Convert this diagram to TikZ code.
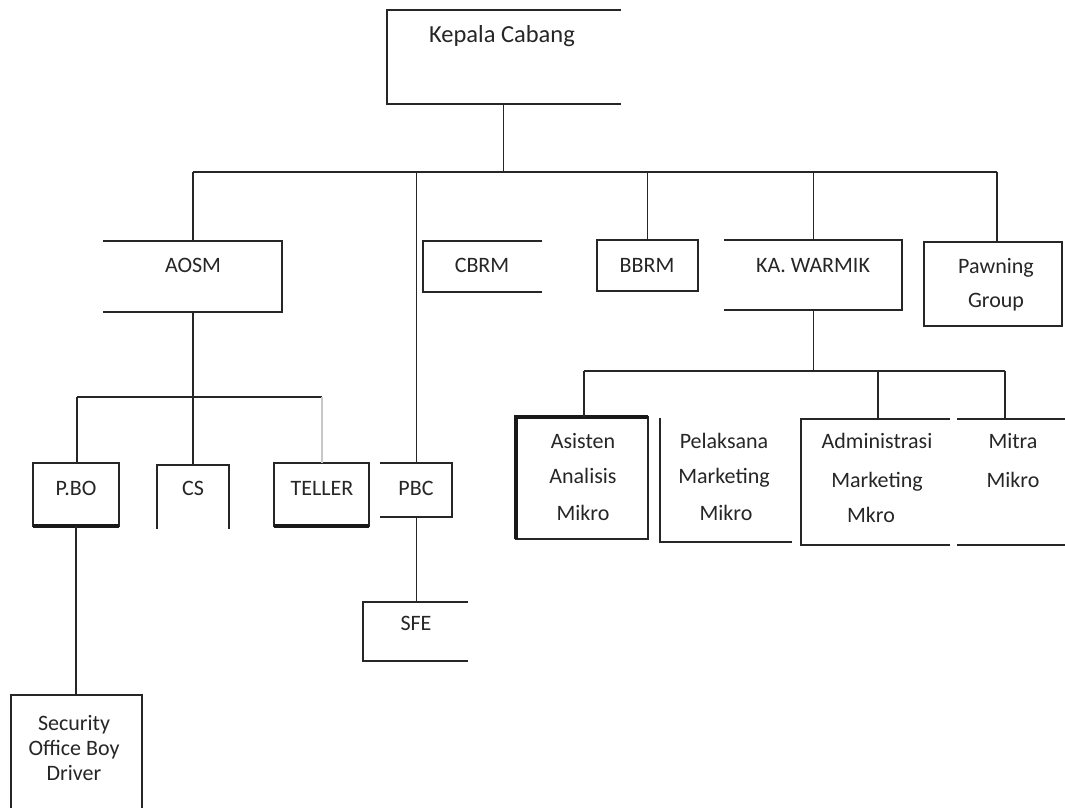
\documentclass[tikz,border=0pt]{standalone}
\usepackage{fontspec}
\setmainfont{Carlito}
\newcommand\mkbox[5]{% name, x1, x2, y1, y2
  \node[bx, minimum width={(#3-#2)*1pt}, minimum height={(#5-#4)*1pt}] (#1) at ({(#2+#3)/2},{(#4+#5)/2}) {};}
\begin{document}
\begin{tikzpicture}[x=1pt,y=-1pt,
  bx/.style={inner sep=0pt, outer sep=0pt, draw=none, shape=rectangle},
  lbl/.style={font=\fontsize{22}{26}\selectfont, text=black!85, inner sep=0pt, anchor=mid, yshift=-3pt},
  ln/.style={line width=1.9pt, black!85, line cap=rect},
  thk/.style={line width=3.2pt, black!90},
  conn/.style={line width=1.9pt, black!85},
  faint/.style={line width=1.4pt, black!22}]
\useasboundingbox (0,0) rectangle (1065,807);
\fill[white] (0,0) rectangle (1065,807);

% boxes (name, x1, x2, y1, y2)
\mkbox{kc}{387}{620}{10}{104}
\mkbox{aosm}{104}{282}{241}{312}
\mkbox{cbrm}{423}{541}{241}{292}
\mkbox{bbrm}{597}{698}{240}{291}
\mkbox{kaw}{725}{902}{240}{310}
\mkbox{pawn}{924}{1062}{242}{326}
\mkbox{pbo}{33}{119}{463}{526}
\mkbox{cs}{157}{229}{465}{528}
\mkbox{tel}{274}{369}{463}{526}
\mkbox{pbc}{381}{452}{463}{517}
\mkbox{sfe}{363}{467}{602}{661}
\mkbox{sec}{11}{142}{695}{807}
\mkbox{asi}{516}{648}{417}{539}
\mkbox{pel}{660}{791}{419}{542}
\mkbox{adm}{801}{949}{419}{545}
\mkbox{mit}{958}{1065}{419}{545}

% outlines
\draw[ln] (kc.north east) -- (kc.north west) -- (kc.south west) -- (kc.south east);
\draw[ln] (aosm.north west) -- (aosm.north east) -- (aosm.south east) -- (aosm.south west);
\draw[ln] (cbrm.north east) -- (cbrm.north west) -- (cbrm.south west) -- (cbrm.south east);
\draw[ln] (bbrm.north west) rectangle (bbrm.south east);
\draw[ln] (kaw.north west) -- (kaw.north east) -- (kaw.south east) -- (kaw.south west);
\draw[ln] (pawn.north west) rectangle (pawn.south east);
\draw[ln] (pbo.north west) rectangle (pbo.south east);
\draw[thk] (pbo.south west) -- (pbo.south east);
\draw[ln] (cs.south west) -- (cs.north west) -- (cs.north east) -- (cs.south east);
\draw[ln] (tel.north west) rectangle (tel.south east);
\draw[thk] (tel.south west) -- (tel.south east);
\draw[ln] (pbc.north west) -- (pbc.north east) -- (pbc.south east) -- (pbc.south west);
\draw[ln] (sfe.north east) -- (sfe.north west) -- (sfe.south west) -- (sfe.south east);
\draw[ln] (sec.south west) -- (sec.north west) -- (sec.north east) -- (sec.south east);
\draw[ln] (asi.north west) rectangle (asi.south east);
\draw[thk] (asi.south west) -- (asi.north west) -- (asi.north east);
\draw[ln] (pel.north west) -- (pel.south west) -- (pel.south east);
\draw[ln] (adm.north east) -- (adm.north west) -- (adm.south west) -- (adm.south east);
\draw[ln] (mit.north west) -- (mit.north east);
\draw[ln] (mit.south west) -- (mit.south east);

% labels
\node[lbl, font=\fontsize{24.5}{28}\selectfont] (kcT) at (502,37) {Kepala Cabang};
\node[lbl] (aosmT) at (193,267) {AOSM};
\node[lbl] (cbrmT) at (482,267) {CBRM};
\node[lbl] (bbrmT) at (647,267) {BBRM};
\node[lbl] (kawT) at (813,267) {KA. WARMIK};
\node[lbl] (pawnT1) at (996,268) {Pawning};
\node[lbl] (pawnT2) at (996,302) {Group};
\node[lbl] (pboT) at (76,490) {P.BO};
\node[lbl] (csT) at (193,490) {CS};
\node[lbl] (telT) at (322,490) {TELLER};
\node[lbl] (pbcT) at (416,490) {PBC};
\node[lbl] (sfeT) at (416,625) {SFE};
\node[lbl] (secT1) at (74,725) {Security};
\node[lbl] (secT2) at (74,750) {Office Boy};
\node[lbl] (secT3) at (74,775) {Driver};
\node[lbl] (asiT1) at (583,443) {Asisten};
\node[lbl] (asiT2) at (583,478) {Analisis};
\node[lbl] (asiT3) at (583,515) {Mikro};
\node[lbl] (pelT1) at (724,443) {Pelaksana};
\node[lbl] (pelT2) at (724,478) {Marketing};
\node[lbl] (pelT3) at (726,515) {Mikro};
\node[lbl] (admT1) at (877,443) {Administrasi};
\node[lbl] (admT2) at (877,482) {Marketing};
\node[lbl] (admT3) at (871,517) {Mkro};
\node[lbl] (mitT1) at (1013,443) {Mitra};
\node[lbl] (mitT2) at (1013,482) {Mikro};

% junction coordinates
\coordinate (b1) at (193,172);
\coordinate (b2) at (997,172);
\coordinate (a1) at (77,397);
\coordinate (a2) at (322,397);
\coordinate (k1) at (584,371);
\coordinate (k2) at (1005,371);
\coordinate (k3) at (878,371);

% connectors
\draw[conn] (kc.south) -- (kc.south |- b1);
\draw[conn] (b1) -- (b2);
\draw[conn] (b1) -- (aosm.north);
\draw[conn] (pbc.north |- b1) -- (pbc.north);
\draw[conn] (bbrm.north |- b1) -- (bbrm.north);
\draw[conn] (kaw.north |- b1) -- (kaw.north);
\draw[conn] (b2) -- (b2 |- pawn.north);

\draw[conn] (aosm.south) -- (cs.north);
\draw[conn] (a1) -- (a2);
\draw[conn] (a1) -- (a1 |- pbo.north);
\draw[faint] (a2) -- (a2 |- tel.north);
\draw[conn] (pbo.south) -- (pbo.south |- sec.north);
\draw[conn] (pbc.south) -- (pbc.south |- sfe.north);

\draw[conn] (kaw.south) -- (kaw.south |- k1);
\draw[conn] (k1) -- (k2);
\draw[conn] (k1) -- (k1 |- asi.north);
\draw[conn] (k3) -- (k3 |- adm.north);
\draw[conn] (k2) -- (k2 |- mit.north);
\end{tikzpicture}
\end{document}
